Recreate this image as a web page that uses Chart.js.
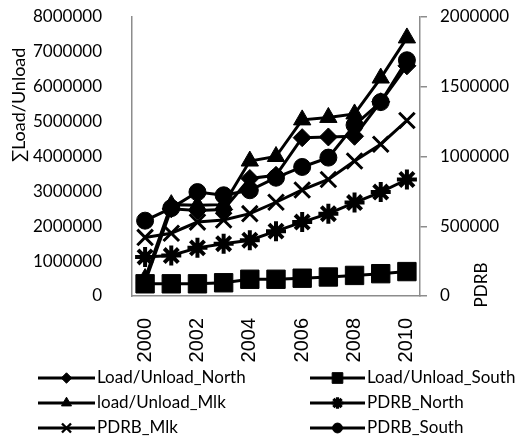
<!DOCTYPE html>
<html><head><meta charset="utf-8">
<script src="https://cdn.jsdelivr.net/npm/chart.js@4.4.1/dist/chart.umd.min.js"></script>
<style>html,body{margin:0;padding:0;background:#fff}canvas{display:block}</style>
</head><body>
<canvas id="c" width="532" height="441"></canvas>
<script>
const years = ['2000','2001','2002','2003','2004','2005','2006','2007','2008','2009','2010'];
const loadUnloadNorth = [400000, 2500000, 2450000, 2480000, 3370000, 3460000, 4540000, 4560000, 4580000, 5570000, 6600000];
const loadUnloadSouth = [350000, 350000, 350000, 380000, 480000, 480000, 510000, 545000, 590000, 640000, 700000];
const loadUnloadMlk   = [500000, 2620000, 2600000, 2620000, 3870000, 4000000, 5050000, 5120000, 5220000, 6250000, 7400000];
const pdrbNorth = [280000, 290000, 345000, 375000, 400000, 465000, 530000, 590000, 670000, 745000, 835000];
const pdrbMlk   = [420000, 450000, 530000, 545000, 590000, 672000, 760000, 835000, 968000, 1088000, 1258000];
const pdrbSouth = [540000, 630000, 745000, 722000, 758000, 848000, 925000, 992000, 1225000, 1390000, 1690000];
const leftAxisTitle = '\u2211Load/Unload';
const rightAxisTitle = 'PDRB';
const seriesNames = ['Load/Unload_North','Load/Unload_South','load/Unload_Mlk','PDRB_North','PDRB_Mlk','PDRB_South'];

const FONT = 'Lato';
const AXIS_GRAY = '#8c8c8c';

function ds(label, data, axis, style, radius, bw) {
  return {
    label, data, yAxisID: axis,
    borderColor: '#000', backgroundColor: '#000',
    borderWidth: 3, tension: 0,
    pointStyle: style, pointRadius: radius, pointHoverRadius: radius,
    pointBackgroundColor: '#000', pointBorderColor: '#000', pointBorderWidth: bw
  };
}

const datasets = [
  ds(seriesNames[0], loadUnloadNorth, 'yL', 'rectRot', 9, 1),
  ds(seriesNames[1], loadUnloadSouth, 'yL', 'rect', 13, 1),
  ds(seriesNames[2], loadUnloadMlk, 'yL', 'triangle', 10, 1),
  ds(seriesNames[3], pdrbNorth, 'yR', 'star', 10, 4),
  ds(seriesNames[4], pdrbMlk, 'yR', 'crossRot', 11, 3),
  ds(seriesNames[5], pdrbSouth, 'yR', 'circle', 8.5, 1)
];

const extras = {
  id: 'extras',
  afterDraw(chart) {
    const ctx = chart.ctx;
    ctx.save();
    ctx.fillStyle = '#000';
    ctx.font = '18px ' + FONT;
    ctx.save();
    ctx.translate(19, 105);
    ctx.rotate(-Math.PI / 2);
    ctx.textAlign = 'center'; ctx.textBaseline = 'middle';
    ctx.fillText(leftAxisTitle, 0, 0);
    ctx.restore();
    ctx.save();
    ctx.translate(482, 285);
    ctx.rotate(-Math.PI / 2);
    ctx.textAlign = 'center'; ctx.textBaseline = 'middle';
    ctx.font = '17px ' + FONT;
    ctx.fillText(rightAxisTitle, 0, 0);
    ctx.restore();
    const cols = [{x0: 38, x1: 95, tx: 97}, {x0: 310, x1: 365, tx: 367}];
    const rows = [378, 403, 428];
    chart.data.datasets.forEach((d, i) => {
      const c = cols[i % 2], y = rows[Math.floor(i / 2)];
      ctx.strokeStyle = '#000'; ctx.lineWidth = 3;
      ctx.beginPath(); ctx.moveTo(c.x0, y); ctx.lineTo(c.x1, y); ctx.stroke();
      const r = d.pointRadius * 0.58;
      ctx.fillStyle = '#000';
      ctx.lineWidth = Math.max(1, d.pointBorderWidth * 0.8);
      Chart.helpers.drawPoint(ctx, {pointStyle: d.pointStyle, radius: r, rotation: 0, borderWidth: ctx.lineWidth}, (c.x0 + c.x1) / 2, y);
      ctx.fillStyle = '#000';
      ctx.textAlign = 'left'; ctx.textBaseline = 'middle';
      ctx.font = '17px ' + FONT;
      ctx.fillText(d.label, c.tx, y);
    });
    ctx.restore();
  }
};

function zeroPad(s) { s.paddingTop = 0; s.paddingBottom = 0; }

new Chart(document.getElementById('c'), {
  type: 'line',
  data: { labels: years, datasets },
  plugins: [extras],
  options: {
    responsive: false, animation: false, devicePixelRatio: 1,
    layout: { padding: { top: 17, left: 0, right: 0, bottom: 0 } },
    plugins: { legend: { display: false }, tooltip: { enabled: false } },
    scales: {
      x: {
        offset: true,
        grid: { display: false },
        border: { display: true, color: AXIS_GRAY, width: 1.5 },
        ticks: {
          autoSkip: false, minRotation: 90, maxRotation: 90, padding: 14,
          color: '#000', font: { family: 'Liberation Sans', size: 20 },
          callback: (v, i) => (i % 2 === 0 ? years[i] : '')
        },
        afterFit: s => { s.height = 145; s.paddingLeft = 0; s.paddingRight = 0; }
      },
      yL: {
        position: 'left', min: 0, max: 8000000,
        grid: { display: false },
        border: { display: true, color: AXIS_GRAY, width: 1.5 },
        ticks: { stepSize: 1000000, padding: 22, color: '#000', font: { family: FONT, size: 17 },
          callback: v => String(v) },
        afterFit: s => { s.width = 132; zeroPad(s); }
      },
      yR: {
        position: 'right', min: 0, max: 2000000,
        grid: { display: true, drawOnChartArea: false, drawTicks: true, tickLength: 7, color: AXIS_GRAY, tickColor: AXIS_GRAY, lineWidth: 1.5 },
        border: { display: true, color: AXIS_GRAY, width: 1.5 },
        ticks: { stepSize: 500000, padding: 13, color: '#000', font: { family: FONT, size: 17 },
          callback: v => String(v) },
        afterFit: s => { s.width = 112; zeroPad(s); }
      }
    }
  }
});
</script>
</body></html>
